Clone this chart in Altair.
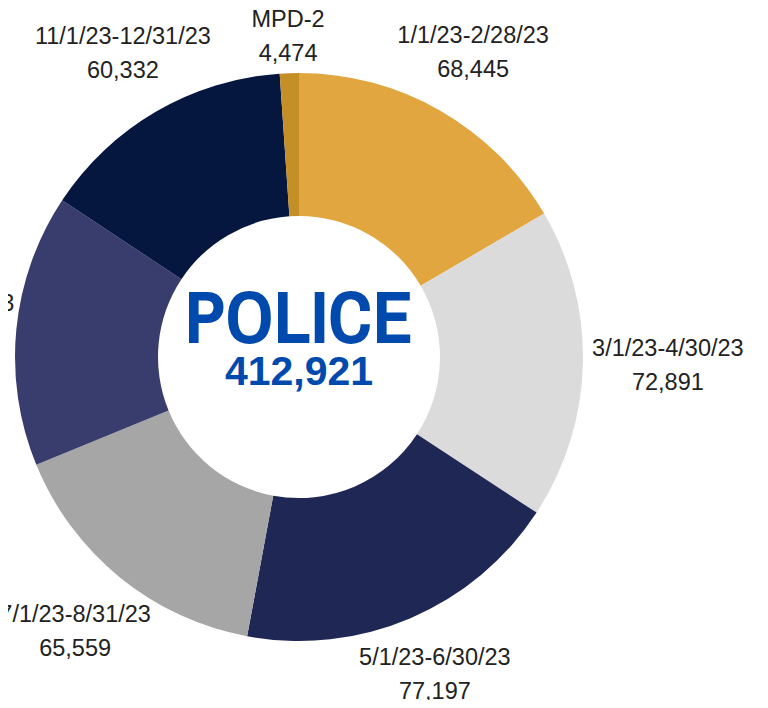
import altair as alt
import pandas as pd

categories = ["1/1/23-2/28/23", "3/1/23-4/30/23", "5/1/23-6/30/23", "7/1/23-8/31/23",
              "9/1/23-10/31/23", "11/1/23-12/31/23", "MPD-2"]
values = [68445, 72891, 77197, 65559, 64023, 60332, 4474]
colors = ["#E1A640", "#DBDBDB", "#1F2754", "#A6A6A6", "#383D6D", "#05163F", "#C38F26"]
center_title = "POLICE"

df = pd.DataFrame({
    "cat": categories,
    "value": values,
    "idx": list(range(len(categories))),
})
df["label"] = [f"{c}\n{v:,}" for c, v in zip(categories, values)]

CX, CY = 291, 349
LABEL_FONT = "Liberation Sans, Arial, sans-serif"
CENTER_FONT = "Liberation Sans Narrow, Archivo Narrow, DejaVu Sans Condensed, sans-serif"
LH = 34

base = alt.Chart(df)

arcs = base.mark_arc(x=CX, y=CY, outerRadius=284, innerRadius=141).encode(
    theta=alt.Theta("value:Q", stack=True),
    order=alt.Order("idx:Q", sort="ascending"),
    color=alt.Color("cat:N", scale=alt.Scale(domain=categories, range=colors), legend=None),
)

labels = base.transform_window(
    cum="sum(value)", sort=[alt.SortField("idx", order="ascending")]
).transform_joinaggregate(
    tot="sum(value)"
).transform_calculate(
    mid="(datum.cum - datum.value / 2) / datum.tot * 2 * PI",
    r="datum.cat == 'MPD-2' ? 320 : 331 + 38 * abs(sin(datum.mid))",
).mark_text(
    x=CX, y=CY, dy=-LH / 2, font=LABEL_FONT, fontSize=23.5, color="#222222",
    lineBreak="\n", lineHeight=LH, align="center", baseline="middle"
).encode(
    theta=alt.Theta("mid:Q", scale=None),
    radius=alt.Radius("r:Q", scale=None),
    text="label:N",
)

title = alt.Chart(pd.DataFrame({"t": [center_title]})).mark_text(
    x=CX, y=CY - 37, font=CENTER_FONT, fontSize=75, fontWeight="bold",
    color="#0049AD", align="center", baseline="middle"
).encode(text="t:N")

total = base.transform_aggregate(total="sum(value)").mark_text(
    x=CX, y=CY + 16, font="Liberation Sans, Arial, sans-serif", fontSize=41, fontWeight="bold",
    color="#0049AD", align="center", baseline="middle"
).encode(text=alt.Text("total:Q", format=","))

chart = alt.layer(arcs, labels, title, total).properties(
    width=752, height=692, padding=0,
    autosize=alt.AutoSizeParams(type="none"),
).configure_view(stroke=None)

chart.save("out.html", embed_options={"renderer": "svg", "actions": False})
